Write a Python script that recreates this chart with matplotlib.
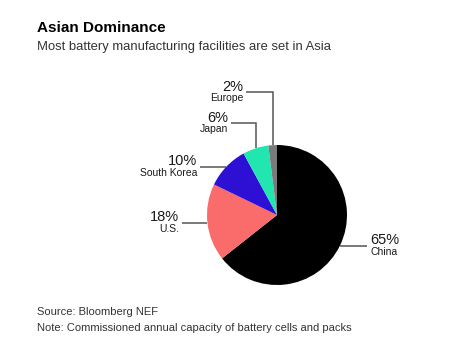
import numpy as np
import matplotlib.pyplot as plt

plt.rcParams['font.family'] = ['Liberation Sans', 'DejaVu Sans']

countries = ['China', 'U.S.', 'South Korea', 'Japan', 'Europe']
shares = [65, 18, 10, 6, 2]
colors = ['#000000', '#fa6b6b', '#2d10d4', '#22e6b0', '#7a7a7a']

# layout in pixels (figure is 450x346)
W, H = 450, 346
CX, CY, R = 277, 215, 70


def to_data(px, py):
    return (px - CX) / R, (CY - py) / R


fig = plt.figure(figsize=(4.5, 3.46), dpi=100)
ax = fig.add_axes([0, 0, 1, 1])
ax.axis('off')

wedges, _ = ax.pie(shares, colors=colors, startangle=90, counterclock=False,
                   radius=1, center=(0, 0), wedgeprops=dict(linewidth=0))
ax.set_xlim(-CX / R, (W - CX) / R)
ax.set_ylim((CY - H) / R, CY / R)
ax.set_aspect('equal')

# label end x (pixels), side, and elbow y for the top labels
label_pos = {
    'China': dict(x=367, side='right', elbow=None),
    'U.S.': dict(x=182, side='left', elbow=None),
    'South Korea': dict(x=200, side='left', elbow=None),
    'Japan': dict(x=231, side='left', elbow=123),
    'Europe': dict(x=246, side='left', elbow=92),
}

line_col = '#555555'
for w, name, val in zip(wedges, countries, shares):
    ang = np.deg2rad((w.theta1 + w.theta2) / 2)
    ax0, ay0 = np.cos(ang), np.sin(ang)
    lp = label_pos[name]
    lx, _ = to_data(lp['x'], 0)
    if lp['elbow'] is None:
        ly = ay0
        ax.plot([ax0, lx], [ay0, ly], color=line_col, lw=1.1, solid_capstyle='butt')
    else:
        _, ly = to_data(0, lp['elbow'])
        ax.plot([ax0, ax0, lx], [ay0, ly, ly], color=line_col, lw=1.1,
                solid_capstyle='butt', solid_joinstyle='miter')
    if lp['side'] == 'right':
        tx, ha = lx + 3 / R, 'left'
    else:
        tx, ha = lx - 3 / R, 'right'
    ax.text(tx, ly + 1.5 / R, f'{val}%', ha=ha, va='baseline', fontsize=10.5,
            color='#1a1a1a')
    ax.text(tx, ly - 9 / R, name, ha=ha, va='baseline', fontsize=7.5,
            color='#1a1a1a')

fig.text(37 / W, 1 - 32 / H, 'Asian Dominance', fontsize=11, fontweight='bold',
         color='#000000', va='baseline')
fig.text(37 / W, 1 - 50 / H, 'Most battery manufacturing facilities are set in Asia',
         fontsize=9.4, color='#333333', va='baseline')
fig.text(37 / W, 1 - 315 / H, 'Source: Bloomberg NEF', fontsize=8,
         color='#333333', va='baseline')
fig.text(37 / W, 1 - 331 / H, 'Note: Commissioned annual capacity of battery cells and packs',
         fontsize=8, color='#333333', va='baseline')

fig.savefig('out.png', dpi=100, facecolor='white')
